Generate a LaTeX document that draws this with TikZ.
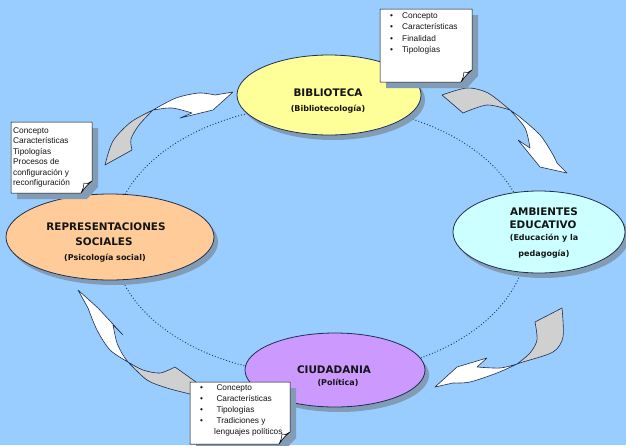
\documentclass[tikz,border=0pt]{standalone}
\usepackage{fontspec}
\setmainfont{Liberation Sans}
\newfontfamily\labelfont{DejaVu Sans}
\usetikzlibrary{shapes.geometric,shadows}

\definecolor{bgblue}{HTML}{99CCFF}
\definecolor{edgec}{HTML}{1F2F4F}
\definecolor{dotc}{HTML}{1F3A6B}
\definecolor{shadowc}{HTML}{829CB5}
\definecolor{yellowfill}{HTML}{FFFF99}
\definecolor{cyanfill}{HTML}{CCFFFF}
\definecolor{violetfill}{HTML}{CC99FF}
\definecolor{peachfill}{HTML}{FFCC99}
\definecolor{tailgray}{HTML}{D0D0D0}
\definecolor{inkc}{HTML}{141414}

% bullet of fixed width for the note lists
\newcommand\bl[1][12pt]{\makebox[#1][l]{\textbullet}}

% note sheet with a curled lower right corner: x1 y1 x2 y2
\newcommand\notesheet[4]{%
  \fill[shadowc] ({#1+6},{#2+6}) -- ({#3+6},{#2+6}) -- ({#3+6},{#4-6}) -- ({#3-5},{#4+6}) -- ({#1+6},{#4+6}) -- cycle;
  \filldraw[sheet] (#1,#2) -- (#3,#2) -- (#3,{#4-12}) .. controls ({#3-5},{#4-8}) .. ({#3-11},#4) -- (#1,#4) -- cycle;
  \filldraw[sheet] ({#3-11},#4) .. controls ({#3-9},{#4-4}) and ({#3-8},{#4-7}) .. ({#3-8},{#4-10})
     .. controls ({#3-5},{#4-9}) .. (#3,{#4-12}) .. controls ({#3-5},{#4-8}) .. ({#3-11},#4) -- cycle;
}

\begin{document}
\begin{tikzpicture}[x=1pt,y=-1pt,
  ring/.style={draw=dotc, line width=1.3pt, line cap=round, dash pattern=on 0pt off 3pt},
  bubble/.style={ellipse, draw=edgec, line width=0.8pt, inner sep=0pt,
    general shadow={fill=shadowc, shadow xshift=4pt, shadow yshift=-5pt}},
  title/.style={font=\labelfont\bfseries\fontsize{10.4}{12}\selectfont, text=inkc, inner sep=0pt},
  subtitle/.style={font=\labelfont\bfseries\fontsize{8}{10}\selectfont, text=inkc, inner sep=0pt},
  listtext/.style={font=\fontsize{8.3}{11}\selectfont, align=left, anchor=north west, inner sep=0pt, text=inkc},
  sheet/.style={fill=white, draw=black, line width=0.5pt, line join=round},
  tailpart/.style={fill=tailgray, draw=edgec, line width=0.6pt, line join=round},
  headpart/.style={fill=white, draw=edgec, line width=0.6pt, line join=round},
]
\fill[bgblue] (0,0) rectangle (626,445);
\useasboundingbox (0,0) rectangle (626,445);

% dotted cycle linking the four themes
\draw[ring] (320,240) ellipse [x radius=207pt, y radius=135pt];

% curved arrow, upper left
\filldraw[tailpart] plot[smooth] coordinates {(105,165) (113,141) (131,122) (153,110)}
  -- plot[smooth] coordinates {(153,110) (139,125) (131,139) (132,150)} -- cycle;
\filldraw[headpart] plot[smooth] coordinates {(153,110) (176,98) (199,93) (215,95)}
  -- (233,92) -- (213,110) -- (180,118) -- (192,113)
  -- plot[smooth] coordinates {(192,113) (172,108) (153,110)} -- cycle;

% curved arrow, upper right
\filldraw[tailpart] plot[smooth] coordinates {(442,95) (467,88) (488,93) (510,110)}
  -- plot[smooth] coordinates {(510,110) (487,105) (463,113)} -- cycle;
\filldraw[headpart] plot[smooth] coordinates {(510,110) (521,118) (540,135) (552,153) (557,163)}
  -- (567,173) -- (540,167) -- (518,140) -- (530,148)
  -- plot[smooth] coordinates {(530,148) (525,128) (510,110)} -- cycle;

% curved arrow, lower right
\filldraw[tailpart] plot[smooth] coordinates {(562,308) (563,337) (553,352) (523,362) (517,364)}
  -- plot[smooth] coordinates {(517,364) (530,353) (537,340) (535,322)} -- cycle;
\filldraw[headpart] plot[smooth] coordinates {(517,364) (497,373) (470,382) (453,383)}
  -- (435,387) -- (457,367) -- (487,358) -- (477,367)
  -- plot[smooth] coordinates {(477,367) (500,368) (517,364)} -- cycle;

% curved arrow, lower left
\filldraw[tailpart] plot[smooth] coordinates {(128,362) (143,370) (160,373) (175,367)}
  -- (196,382) -- (196,396)
  -- plot[smooth] coordinates {(190,394) (167,388) (147,380) (128,362)} -- cycle;
\filldraw[headpart] plot[smooth] coordinates {(128,362) (110,350) (97,330) (88,308)}
  -- (78,290) -- (98,308) -- (123,335) -- (113,325)
  -- plot[smooth] coordinates {(113,325) (117,343) (123,355) (128,362)} -- cycle;

% the four themes
\node[bubble, fill=yellowfill, minimum width=184pt, minimum height=80pt] (bib) at (329,95) {};
\node[bubble, fill=cyanfill, minimum width=172pt, minimum height=82pt] (amb) at (539,232) {};
\node[bubble, fill=violetfill, minimum width=180pt, minimum height=74pt] (ciu) at (335,370) {};
\node[bubble, fill=peachfill, minimum width=208pt, minimum height=86pt] (rep) at (110,237) {};

\node[title] (bibT) at (328,93) {BIBLIOTECA};
\node[subtitle] (bibS) at (328,109) {(Bibliotecología)};

\node[title] (ambT) at (544,212) {AMBIENTES};
\node[title] (ambT2) at (543,225) {EDUCATIVO};
\node[subtitle] (ambS) at (544,238) {(Educación y la};
\node[subtitle] (ambS2) at (544,254) {pedagogía)};

\node[title] (ciuT) at (334,370) {CIUDADANIA};
\node[subtitle] (ciuS) at (338,383) {(Política)};

\node[title] (repT) at (106,227) {REPRESENTACIONES};
\node[title] (repT2) at (104,242) {SOCIALES};
\node[subtitle] (repS) at (105,258) {(Psicología social)};

% notes
\notesheet{380}{9}{472}{82}
\node[listtext, font=\fontsize{8.3}{11.3}\selectfont] (noteA) at (390,12.5)
  {\bl Concepto\\ \bl Características\\ \bl Finalidad\\ \bl Tipologías};

\notesheet{11}{122}{92}{193}
\node[listtext, font=\fontsize{8.3}{10.4}\selectfont] (noteB) at (13,127.5)
  {Concepto\\ Características\\ Tipologías\\ Procesos de\\ configuración y\\ reconfiguración};

\notesheet{190}{382}{290}{444}
\node[listtext, font=\fontsize{8.3}{11}\selectfont] (noteC) at (200,384.5)
  {\bl[14pt] Concepto\\ \bl[14pt] Características\\ \bl[14pt] Tipologías\\ \bl[14pt] Tradiciones y\\ \makebox[14pt]{}lenguajes políticos};
\end{tikzpicture}
\end{document}
